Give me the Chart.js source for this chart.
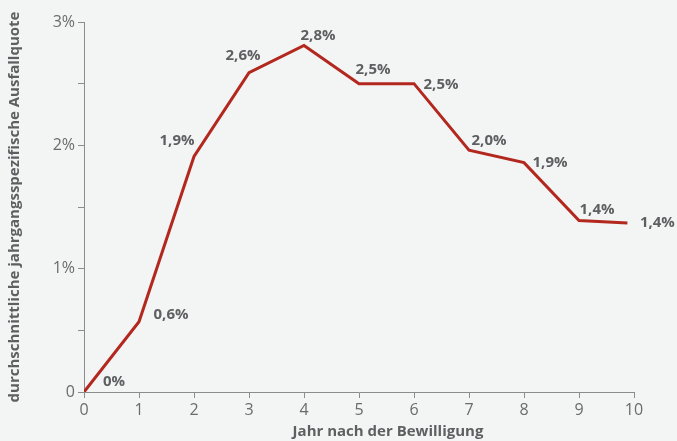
<!DOCTYPE html>
<html><head><meta charset="utf-8">
<script src="https://cdn.jsdelivr.net/npm/chart.js@4/dist/chart.umd.min.js"></script>
<style>html,body{margin:0;padding:0;background:#f3f4f4;}#wrap{width:677px;height:441px;}</style>
</head><body><div id="wrap"><canvas id="c" width="677" height="441"></canvas></div>
<script>
const years = [0,1,2,3,4,5,6,7,8,9,9.88];
const defaultRates = [0,0.57,1.91,2.59,2.81,2.5,2.5,1.96,1.86,1.39,1.37];
const pointLabels = ["0%","0,6%","1,9%","2,6%","2,8%","2,5%","2,5%","2,0%","1,9%","1,4%","1,4%"];
const yTickLabels = {0:"0",1:"1%",2:"2%",3:"3%"};
const xTitle = "Jahr nach der Bewilligung";
const yTitle = "durchschnittliche jahrgangsspezifische Ausfallquote";

const labelOffsets = [[30,-10],[32,-7],[-17,-16],[-6,-17],[14,-10],[14,-14],[27,1],[20,-10],[26,0],[18,-11],[30,0]];
const FONT = "'Open Sans', sans-serif";
const TXT = '#5e5f61';

const deco = {
  id:'deco',
  beforeDraw(chart){const c=chart.ctx;c.save();c.fillStyle='#f3f4f4';c.fillRect(0,0,chart.width,chart.height);c.restore();},
  afterDatasetsDraw(chart){
    const c=chart.ctx, meta=chart.getDatasetMeta(0);
    c.save();
    c.font="bold 15px "+FONT; c.fillStyle=TXT; c.textAlign='center'; c.textBaseline='middle';
    meta.data.forEach((p,i)=>{const o=labelOffsets[i]; c.fillText(pointLabels[i], p.x+o[0], p.y+o[1]);});
    const a=chart.chartArea;
    c.fillText(xTitle,(a.left+a.right)/2+29,432);
    c.translate(15,(a.top+a.bottom)/2);
    c.rotate(-Math.PI/2);
    c.fillText(yTitle,0,0);
    c.restore();
  }
};

new Chart(document.getElementById('c'),{
  type:'line',
  data:{datasets:[{data:years.map((x,i)=>({x:x,y:defaultRates[i]})),borderColor:'#b3281e',borderWidth:3,pointRadius:0,tension:0,fill:false}]},
  options:{
    responsive:false,animation:false,
    layout:{padding:{left:0,right:43,top:22,bottom:0}},
    plugins:{legend:{display:false},tooltip:{enabled:false}},
    scales:{
      x:{type:'linear',min:0,max:10,
        ticks:{stepSize:1,font:{family:FONT,size:16},color:'#6a6b6d',padding:3},
        grid:{drawOnChartArea:false,tickLength:6,color:'#8c8c8c'},
        border:{color:'#8c8c8c',width:1},
        afterFit(s){s.height=49;}},
      y:{min:0,max:3,
        ticks:{stepSize:0.5,font:{family:FONT,size:16},color:'#6a6b6d',padding:3,
          callback:v=>(Number.isInteger(v)?yTickLabels[v]:'')},
        grid:{drawOnChartArea:false,tickLength:6,color:'#8c8c8c'},
        border:{color:'#8c8c8c',width:1},
        afterFit(s){s.width=84;}}
    }
  },
  plugins:[deco]
});
</script></body></html>
